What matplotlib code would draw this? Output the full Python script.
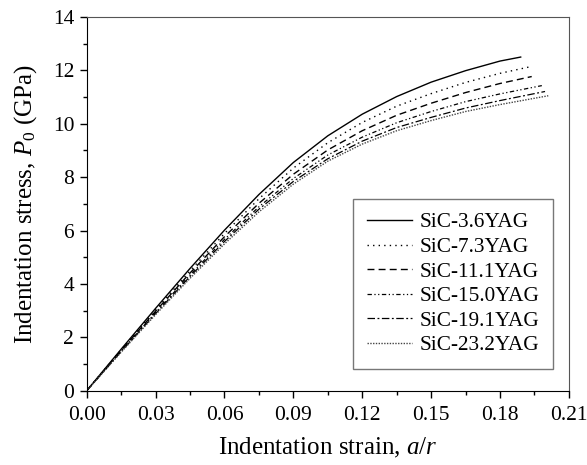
import matplotlib
matplotlib.use("Agg")
import matplotlib.pyplot as plt
from matplotlib.ticker import MultipleLocator, FormatStrFormatter

plt.rcParams['font.family'] = ['Liberation Serif', 'DejaVu Serif']
plt.rcParams['mathtext.fontset'] = 'custom'
plt.rcParams['mathtext.rm'] = 'Liberation Serif'
plt.rcParams['mathtext.it'] = 'Liberation Serif:italic'

labels = ["SiC-3.6YAG", "SiC-7.3YAG", "SiC-11.1YAG", "SiC-15.0YAG", "SiC-19.1YAG", "SiC-23.2YAG"]

x_common = [0, 0.015, 0.03, 0.045, 0.06, 0.075, 0.09, 0.105, 0.12, 0.135, 0.15, 0.165, 0.18]
x_end = [0.189, 0.1928, 0.1938, 0.1982, 0.1996, 0.2010]

p_36 = [0, 1.555, 3.085, 4.58, 6.015, 7.35, 8.55, 9.55, 10.36, 11.02, 11.56, 11.99, 12.35, 12.50]
p_73 = [0, 1.53, 3.03, 4.49, 5.89, 7.19, 8.34, 9.29, 10.05, 10.66, 11.13, 11.55, 11.89, 12.13]
p_111 = [0, 1.505, 2.98, 4.41, 5.77, 7.02, 8.11, 9.02, 9.74, 10.32, 10.77, 11.17, 11.51, 11.77]
p_150 = [0, 1.48, 2.93, 4.34, 5.67, 6.89, 7.95, 8.83, 9.50, 10.04, 10.46, 10.83, 11.12, 11.43]
p_191 = [0, 1.466, 2.89, 4.28, 5.59, 6.80, 7.84, 8.69, 9.35, 9.86, 10.24, 10.59, 10.87, 11.21]
p_232 = [0, 1.443, 2.85, 4.21, 5.50, 6.70, 7.74, 8.60, 9.24, 9.74, 10.12, 10.46, 10.72, 11.05]

series = [p_36, p_73, p_111, p_150, p_191, p_232]
styles = [
    dict(linestyle='-', color='black', lw=1.0),
    dict(linestyle=(0, (1, 3)), color='black', lw=1.0),
    dict(linestyle=(0, (5, 3)), color='black', lw=1.0),
    dict(linestyle=(0, (3.5, 2, 1, 2, 1, 2)), color='black', lw=0.9),
    dict(linestyle=(0, (6, 2, 1.5, 2)), color='black', lw=0.9),
    dict(linestyle=(0, (1, 1)), color='#444444', lw=1.0),
]

fig = plt.figure(figsize=(5.87, 4.65), dpi=100)
ax = fig.add_axes([0.1477, 0.1598, 0.8215, 0.8036])

for lab, ys, xe, st in zip(labels, series, x_end, styles):
    xs = x_common + [xe]
    ax.plot(xs, ys, label=lab, **st)

ax.set_xlim(0, 0.21)
ax.set_ylim(0, 14)
ax.xaxis.set_major_locator(MultipleLocator(0.03))
ax.xaxis.set_minor_locator(MultipleLocator(0.015))
ax.yaxis.set_major_locator(MultipleLocator(2))
ax.yaxis.set_minor_locator(MultipleLocator(1))
ax.xaxis.set_major_formatter(FormatStrFormatter('%.2f'))
ax.tick_params(which='both', direction='out', top=False, right=False, labelsize=15.5, width=1)
ax.tick_params(axis='x', pad=6)
ax.tick_params(axis='y', pad=4)
ax.tick_params(which='major', length=5)
ax.tick_params(which='minor', length=3)
for s in ['top', 'right']:
    ax.spines[s].set_color('#555555')
for s in ['left', 'bottom']:
    ax.spines[s].set_color('black')

ax.set_xlabel('Indentation strain, $\\mathit{a/r}$', fontsize=18, labelpad=8)
ax.set_ylabel('Indentation stress, $\\mathit{P}_{\\mathit{0}}$ (GPa)', fontsize=18, labelpad=10)

leg = ax.legend(loc='lower right', bbox_to_anchor=(0.967, 0.058), fontsize=15.3,
                frameon=True, fancybox=False, edgecolor='#777777', framealpha=1,
                handlelength=2.1, handletextpad=0.35, labelspacing=0.22,
                borderpad=0.65, borderaxespad=0)
leg.get_frame().set_linewidth(1.0)

fig.savefig('out.png', dpi=100)
